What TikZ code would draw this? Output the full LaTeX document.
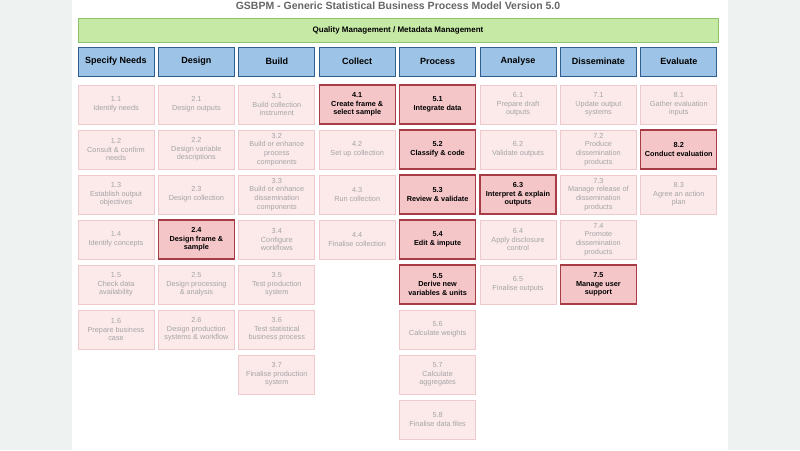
\documentclass[tikz,border=0pt]{standalone}
\usepackage{fontspec}
\setmainfont{Liberation Sans}
\definecolor{fb}{HTML}{FCE9EA}\definecolor{bb}{HTML}{EFCACC}\definecolor{tg}{HTML}{A5A5A5}
\definecolor{fh}{HTML}{F4C6C8}\definecolor{bh}{HTML}{A83C46}
\definecolor{hf}{HTML}{9DC3E6}\definecolor{hb}{HTML}{2F5F8F}
\definecolor{gf}{HTML}{C6E9A6}\definecolor{gb}{HTML}{8CC36A}
\definecolor{side}{HTML}{EEF2F1}
\tikzset{
 base/.style={draw,line width=0.9pt,minimum width=76pt,minimum height=39pt,inner sep=1pt,align=center,font=\fontsize{7.3}{8.6}\selectfont},
 lo/.style={base,fill=fb,draw=bb,text=tg},
 hi/.style={base,fill=fh,draw=bh,line width=1.1pt,text=black,font=\fontsize{7.3}{8.6}\selectfont\bfseries},
 hd/.style={draw=hb,fill=hf,line width=1pt,minimum width=76pt,minimum height=29pt,font=\fontsize{9}{11}\selectfont\bfseries},
}
\newcommand\bx[5]{\node[#5] (b#1#2) at ({116+80.4*(#1-1)},{104.5+45*(#2-1)}) {#3\\#4};}
\begin{document}
\begin{tikzpicture}[x=1pt,y=-1pt]
\useasboundingbox (0,0) rectangle (800,450);
\fill[side] (0,0) rectangle (72,450);
\fill[side] (728,0) rectangle (800,450);
\fill[white] (72,0) rectangle (728,450);
\node[font=\fontsize{10.5}{12}\selectfont\bfseries,text=black!60] (title) at (398,6) {GSBPM - Generic Statistical Business Process Model Version 5.0};
\node[draw=gb,fill=gf,line width=1pt,minimum width=640pt,minimum height=24pt,font=\fontsize{8}{9.5}\selectfont\bfseries] (qm) at (398,30) {Quality Management / Metadata Management};
\foreach \t [count=\i] in {Specify Needs,Design,Build,Collect,Process,Analyse,Disseminate,Evaluate}
  \node[hd] (h\i) at ({116+80.4*(\i-1)},61.5) {\t};
\bx11{1.1}{Identify needs}{lo}
\bx12{1.2}{Consult \& confirm\\needs}{lo}
\bx13{1.3}{Establish output\\objectives}{lo}
\bx14{1.4}{Identify concepts}{lo}
\bx15{1.5}{Check data\\availability}{lo}
\bx16{1.6}{Prepare business\\case}{lo}
\bx21{2.1}{Design outputs}{lo}
\bx22{2.2}{Design variable\\descriptions}{lo}
\bx23{2.3}{Design collection}{lo}
\bx24{2.4}{Design frame \&\\sample}{hi}
\bx25{2.5}{Design processing\\\& analysis}{lo}
\bx26{2.6}{Design production\\systems \& workflow}{lo}
\bx31{3.1}{Build collection\\instrument}{lo}
\bx32{3.2}{Build or enhance\\process\\components}{lo}
\bx33{3.3}{Build or enhance\\dissemination\\components}{lo}
\bx34{3.4}{Configure\\workflows}{lo}
\bx35{3.5}{Test production\\system}{lo}
\bx36{3.6}{Test statistical\\business process}{lo}
\bx37{3.7}{Finalise production\\system}{lo}
\bx41{4.1}{Create frame \&\\select sample}{hi}
\bx42{4.2}{Set up collection}{lo}
\bx43{4.3}{Run collection}{lo}
\bx44{4.4}{Finalise collection}{lo}
\bx51{5.1}{Integrate data}{hi}
\bx52{5.2}{Classify \& code}{hi}
\bx53{5.3}{Review \& validate}{hi}
\bx54{5.4}{Edit \& impute}{hi}
\bx55{5.5}{Derive new\\variables \& units}{hi}
\bx56{5.6}{Calculate weights}{lo}
\bx57{5.7}{Calculate\\aggregates}{lo}
\bx58{5.8}{Finalise data files}{lo}
\bx61{6.1}{Prepare draft\\outputs}{lo}
\bx62{6.2}{Validate outputs}{lo}
\bx63{6.3}{Interpret \& explain\\outputs}{hi}
\bx64{6.4}{Apply disclosure\\control}{lo}
\bx65{6.5}{Finalise outputs}{lo}
\bx71{7.1}{Update output\\systems}{lo}
\bx72{7.2}{Produce\\dissemination\\products}{lo}
\bx73{7.3}{Manage release of\\dissemination\\products}{lo}
\bx74{7.4}{Promote\\dissemination\\products}{lo}
\bx75{7.5}{Manage user\\support}{hi}
\bx81{8.1}{Gather evaluation\\inputs}{lo}
\bx82{8.2}{Conduct evaluation}{hi}
\bx83{8.3}{Agree an action\\plan}{lo}
\end{tikzpicture}
\end{document}
